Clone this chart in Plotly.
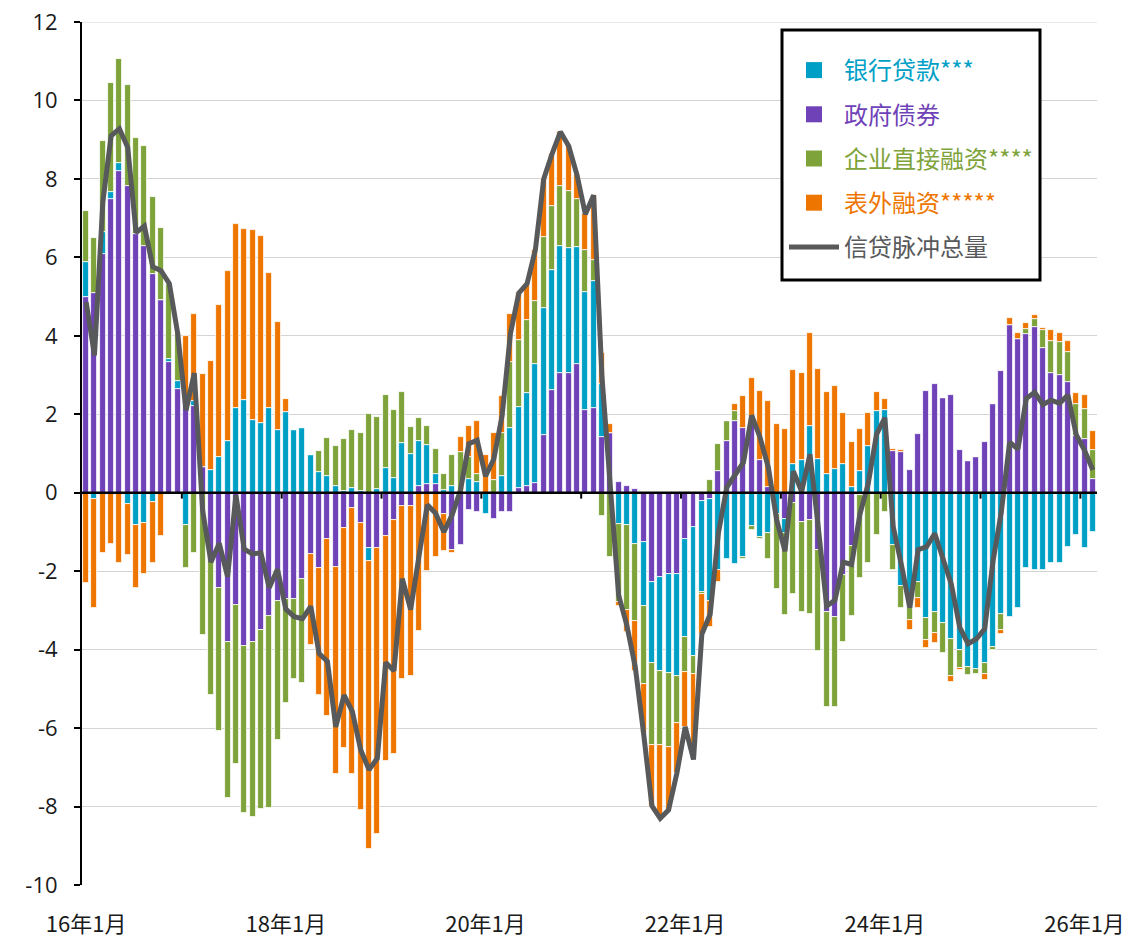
import plotly.graph_objects as go

# ---------------- data (monthly, 2016-01 .. 2026-02) ----------------
months = [f"{y}年{m}月" for y in range(16, 27) for m in range(1, 13)][:122]
tick_labels = ["16年1月", "18年1月", "20年1月", "22年1月", "24年1月", "26年1月"]
y_ticks = [-10, -8, -6, -4, -2, 0, 2, 4, 6, 8, 10, 12]
y_tick_text = ["-10", "-8", "-6", "-4", "-2", "0", "2", "4", "6", "8", "10", "12"]

gov_bonds = [
    5.0, 5.09, 6.09, 7.48, 8.19, 7.83, 6.6, 6.3, 5.57, 4.92, 3.33, 2.65,
    2.36, 2.2, 0.66, -1.7, -2.42, -3.8, -2.87, -3.9, -3.8, -3.5, -3.14, -2.76,
    -2.7, -2.7, -2.21, -1.57, -1.93, -1.17, -1.9, -0.91, -0.4, -0.76, -1.4, -1.4,
    -1.11, -0.7, -0.34, -0.34, 0.16, 0.23, 0.23, -0.53, -1.47, -1.34, -0.45, -0.49,
    0, -0.66, -0.49, -0.49, 0.12, 0.17, 0.25, 1.48, 2.63, 3.04, 3.04, 3.29,
    2.1, 2.15, 1.42, 1.51, 0.28, 0.17, 0.1, -1.25, -2.27, -2.14, -2.06, -2.06,
    -1.19, -0.87, -0.2, -0.15, 0.55, 1.32, 1.84, 1.66, 1.9, 0.84, 0.14, 0,
    -0.66, -0.26, -0.74, -0.7, -1.45, -3.04, -3.16, -2.1, -1.36, -0.07, 0, 0,
    0, 1.06, 1.04, 0.57, 1.49, 2.59, 2.78, 2.41, 2.48, 1.08, 0.8, 0.9,
    1.3, 2.25, 3.1, 4.28, 3.93, 4.05, 4.22, 3.7, 3.04, 3.01, 2.82, 1.45,
    1.38, 0.34,
]
bank_loans = [
    0.87, -0.17, 0.55, 0.19, 0.21, -0.29, -0.83, -0.77, -0.23, 0, 0.08, 0.21,
    -0.83, 0.15, 0, 0.58, 0.92, 1.32, 2.15, 2.36, 1.85, 1.77, 2.15, 1.6,
    2.06, 1.59, 1.65, 0.97, 0.53, 0.42, 0.17, 0.05, 0.13, 0.04, -0.34, 0.1,
    0.62, 0.38, 1.27, 0.98, 1.17, 0.98, 0.25, 0.07, 0.17, 0, 0.34, 0.27,
    -0.53, 0, 0.42, 1.66, 2.07, 2.36, 3.02, 3.24, 3.06, 3.25, 3.21, 2.97,
    3.02, 3.26, 1.36, 0, -0.79, -0.81, -1.31, -1.63, -2.06, -2.4, -2.53, -2.6,
    -2.49, -3.3, -2.33, -2.6, -1.97, -1.68, -1.82, -1.63, -0.85, -1.14, -1.02, -0.55,
    -0.36, 0.72, 0.83, 1.7, 0.87, 0.49, 0.6, 0.72, 0.15, 0.56, 1.18, 2.08,
    2.1, -1.34, -2.38, -2.95, -2.27, -3.2, -3.05, -3.33, -3.72, -4.0, -4.44, -4.5,
    -4.35, -3.93, -3.1, -3.16, -2.95, -1.93, -1.96, -1.96, -1.8, -1.79, -1.38, -1.07,
    -1.4, -1.0,
]
corp_direct = [
    1.3, 1.41, 2.32, 2.78, 2.66, 2.56, 2.45, 2.53, 1.97, 1.84, 1.92, 1.2,
    -1.08, -1.53, -3.63, -3.46, -3.65, -3.99, -4.05, -4.27, -4.47, -4.57, -4.89, -3.54,
    -2.67, -2.05, -2.65, 0, 0.53, 0.98, 1.03, 1.31, 1.46, 1.49, 2.01, 1.83,
    1.88, 1.74, 1.3, 0.7, 0.58, 0.48, 0.64, 0.42, 0.8, 1.05, 0.57, 0.21,
    0, 0.33, 1.09, 1.67, 1.71, 1.88, 1.63, 1.8, 1.61, 1.54, 1.44, 1.24,
    1.07, 0.53, -0.6, -1.65, -2.0, -2.17, -1.95, -2.0, -2.1, -1.89, -1.9, -1.2,
    -0.89, -0.45, -0.06, 0.32, 0.7, 0.5, 0.24, -0.06, -0.11, -0.04, -0.68, -1.9,
    -2.1, -2.33, -2.29, -2.38, -2.59, -2.42, -2.29, -1.7, -1.77, -2.1, -1.8, -1.08,
    -0.49, -0.64, -0.55, -0.3, -0.42, -0.56, -0.53, -0.75, -0.94, -0.47, -0.21, -0.13,
    -0.28, -0.07, -0.4, 0, 0, 0.13, 0.22, 0.44, 0.82, 0.82, 0.78, 0.8,
    0.76, 0.74,
]
off_balance = [
    -2.31, -2.76, -1.53, -1.31, -1.78, -1.3, -1.59, -1.29, -1.55, -1.1, 0, 0,
    1.63, 2.21, 2.36, 2.78, 3.86, 4.33, 4.71, 4.37, 4.86, 4.77, 3.46, 2.75,
    0.34, 0, 0, -2.3, -3.23, -4.53, -5.27, -5.61, -6.77, -7.33, -7.33, -7.3,
    -5.72, -5.96, -4.42, -4.32, -3.53, -2.0, -1.64, -0.96, -0.06, 0.36, 0.79, 1.35,
    0.95, 1.19, 0.95, 1.22, 1.19, 0.92, 1.3, 1.48, 1.34, 1.37, 1.15, 0.6,
    0.91, 1.64, 0.77, 0.25, -0.1, -0.58, -1.28, -1.25, -1.55, -1.87, -1.6, -1.29,
    -1.4, -2.18, -1.02, -0.67, -0.3, 0, 0.18, 0.8, 1.03, 1.75, 2.2, 1.75,
    1.63, 2.42, 2.23, 2.36, 2.29, 2.08, 2.11, 1.31, 1.15, 1.06, 0.85, 0.49,
    0.3, 0.06, 0.04, -0.25, -0.25, -0.21, -0.24, 0, -0.16, -0.04, 0, 0,
    -0.14, 0, -0.09, 0.17, 0.13, 0.15, 0.08, 0.07, 0.3, 0.24, 0.27, 0.3,
    0.34, 0.5,
]
credit_pulse = [
    4.86, 3.5, 7.4, 9.1, 9.28, 8.8, 6.63, 6.8, 5.76, 5.66, 5.33, 4.06,
    2.1, 3.05, -0.45, -1.77, -1.29, -2.14, -0.06, -1.44, -1.56, -1.53, -2.42, -1.95,
    -2.97, -3.16, -3.21, -2.9, -4.1, -4.3, -5.97, -5.16, -5.58, -6.56, -7.06, -6.77,
    -4.33, -4.54, -2.19, -2.98, -1.62, -0.31, -0.52, -1.0, -0.56, 0.07, 1.25, 1.34,
    0.42, 0.86, 1.97, 4.06, 5.09, 5.33, 6.2, 8.0, 8.64, 9.2, 8.84, 8.1,
    7.1, 7.58, 2.95, 0.11, -2.61, -3.39, -4.44, -6.13, -7.98, -8.3, -8.09, -7.15,
    -5.97, -6.8, -3.61, -3.1, -1.02, 0.14, 0.44, 0.77, 1.97, 1.41, 0.64, -0.7,
    -1.49, 0.55, 0.03, 0.98, -0.88, -2.89, -2.74, -1.77, -1.83, -0.55, 0.23, 1.49,
    1.91, -0.86, -1.85, -2.93, -1.45, -1.38, -1.04, -1.67, -2.34, -3.43, -3.85, -3.73,
    -3.47, -1.75, -0.49, 1.29, 1.11, 2.4, 2.56, 2.25, 2.36, 2.28, 2.49, 1.48,
    1.08, 0.58,
]

# ---------------- styling ----------------
TEAL = "#00A0C6"
PURPLE = "#6F42B8"
GREEN = "#7EA33A"
ORANGE = "#EE7600"
GRAY = "#58595B"
FONT = "Open Sans, Noto Sans CJK SC, sans-serif"
CJK = "Noto Sans CJK SC, sans-serif"

# plot area in page pixels: x 82..1097, y 22..885
PX_L, PX_R, PX_T, PX_B = 82, 1097, 22, 885
PW, PH = PX_R - PX_L, PX_B - PX_T


def px_x(p):
    return (p - PX_L) / PW


def px_y(p):
    return (PX_B - p) / PH


x = list(range(len(months)))
tickvals = [months.index(t) for t in tick_labels]

fig = go.Figure()

# stacking order: closest to zero first
series = [
    ("政府债券", gov_bonds, PURPLE, 2),
    ("银行贷款***", bank_loans, TEAL, 1),
    ("企业直接融资****", corp_direct, GREEN, 3),
    ("表外融资*****", off_balance, ORANGE, 4),
]
for name, vals, color, rank in series:
    fig.add_trace(go.Bar(
        x=x, y=vals, width=0.72, showlegend=False, name=name,
        marker=dict(color=color, line=dict(color="white", width=0.8)),
    ))

fig.add_trace(go.Scatter(
    x=x, y=credit_pulse, mode="lines", showlegend=False, name="信贷脉冲总量",
    line=dict(color=GRAY, width=5),
))

# legend proxies (bigger square symbols, coloured text)
for name, vals, color, rank in series:
    fig.add_trace(go.Scatter(
        x=[None], y=[None], mode="markers", legendgroup=name, legendrank=rank,
        name=f"<span style='color:{color}'>{name}</span>",
        marker=dict(symbol="square", size=16, color=color),
    ))
fig.add_trace(go.Scatter(
    x=[None], y=[None], mode="lines", legendgroup="pulse", legendrank=5,
    name=f"<span style='color:{GRAY}'>信贷脉冲总量</span>",
    line=dict(color=GRAY, width=5),
))

shapes = [
    # zero axis line
    dict(type="line", xref="x", yref="y", x0=-0.5, x1=len(months) - 0.5, y0=0, y1=0,
         line=dict(color="black", width=2.5), layer="above"),
    # top gridline
    dict(type="line", xref="x", yref="y", x0=-0.5, x1=len(months) - 0.5,
         y0=y_ticks[-1], y1=y_ticks[-1], line=dict(color="#d4d4d4", width=1), layer="below"),
    # legend frame
    dict(type="rect", xref="paper", yref="paper",
         x0=px_x(782), x1=px_x(1040), y0=px_y(280), y1=px_y(30),
         line=dict(color="black", width=3), fillcolor="white", layer="above"),
]
# year tick marks on the zero axis
for k in range(12, len(months), 12):
    shapes.append(dict(type="line", xref="x", yref="y", x0=k - 0.5, x1=k - 0.5,
                       y0=0, y1=-0.15, line=dict(color="black", width=2), layer="above"))

fig.update_layout(
    width=1130, height=938,
    margin=dict(l=PX_L, r=1130 - PX_R, t=PX_T, b=938 - PX_B),
    paper_bgcolor="white", plot_bgcolor="white",
    barmode="relative", bargap=0,
    font=dict(family=FONT, size=22, color="#1a1a1a"),
    shapes=shapes,
    legend=dict(
        x=px_x(784), xanchor="left",
        y=px_y(48), yanchor="top",
        bgcolor="rgba(0,0,0,0)", borderwidth=0,
        font=dict(family=CJK, size=24),
        traceorder="grouped", tracegroupgap=10, itemwidth=50,
    ),
    xaxis=dict(
        range=[-0.5, len(months) - 0.5], tickmode="array",
        tickvals=tickvals, ticktext=tick_labels,
        showgrid=False, zeroline=False, showline=False, ticks="",
        tickfont=dict(family=CJK, size=22, color="#1a1a1a"),
        ticklabelstandoff=24, automargin=False, ticklabeloverflow="allow",
    ),
    yaxis=dict(
        range=[-10, 12], tickmode="array", tickvals=y_ticks, ticktext=y_tick_text,
        showgrid=True, gridcolor="#d4d4d4", gridwidth=1,
        zeroline=False, showline=True, linecolor="black", linewidth=2,
        ticks="outside", ticklen=6, tickwidth=2, tickcolor="black",
        tickfont=dict(family=FONT, size=22, color="#1a1a1a"),
        ticklabelstandoff=12, automargin=False, ticklabeloverflow="allow",
    ),
)

# remove the browser's default 8px body margin so the figure sits at the page origin
fig.write_html(
    "out.html",
    config={"displayModeBar": False},
    post_script="document.body.style.margin='0';",
)
